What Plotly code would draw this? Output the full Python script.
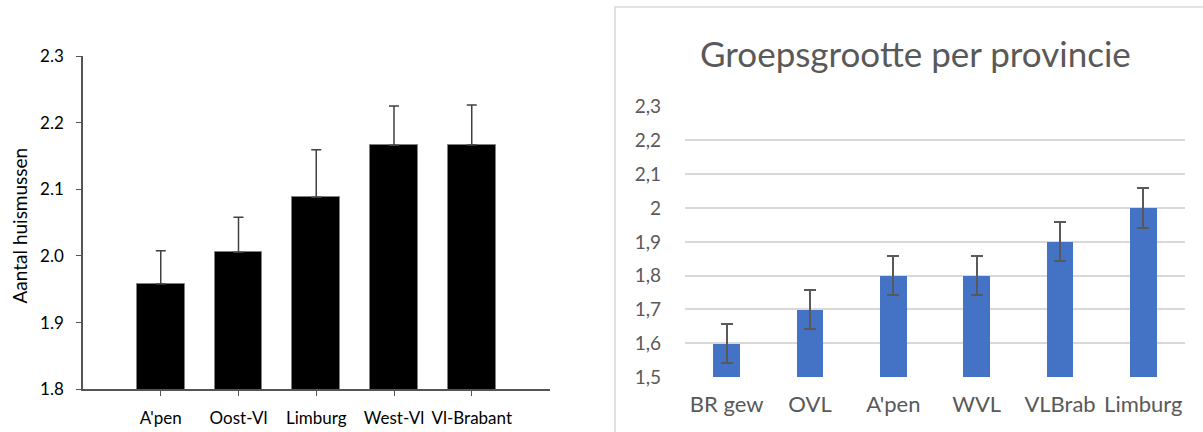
import plotly.graph_objects as go

# Left chart data
left_cats = ["A'pen", "Oost-Vl", "Limburg", "West-Vl", "Vl-Brabant"]
left_vals = [1.958, 2.0055, 2.088, 2.166, 2.1665]
left_err = [0.050, 0.0525, 0.0715, 0.059, 0.060]
left_yticks = [1.8, 1.9, 2.0, 2.1, 2.2, 2.3]

# Right chart data
right_cats = ["BR gew", "OVL", "A'pen", "WVL", "VLBrab", "Limburg"]
right_vals = [1.6, 1.7, 1.8, 1.8, 1.9, 2.0]
right_err = [0.058, 0.058, 0.058, 0.058, 0.058, 0.058]
right_tickvals = [1.5, 1.6, 1.7, 1.8, 1.9, 2.0, 2.1, 2.2, 2.3]
right_ticktext = ["1,5", "1,6", "1,7", "1,8", "1,9", "2", "2,1", "2,2", "2,3"]

W, H = 1203, 432
FONT = "Lato"

fig = go.Figure()

fig.add_trace(go.Bar(
    x=left_cats, y=left_vals, width=0.613,
    marker=dict(color="black", line=dict(color="#808080", width=1)),
    error_y=dict(type="data", array=left_err, arrayminus=[0]*len(left_err), symmetric=False,
                 color="#404040", thickness=1.5, width=5),
    xaxis="x", yaxis="y", showlegend=False,
))

fig.add_trace(go.Bar(
    x=right_cats, y=right_vals, width=0.32,
    marker=dict(color="#4472C4", line=dict(width=0)),
    error_y=dict(type="data", array=right_err, symmetric=True,
                 color="#595959", thickness=2, width=6),
    xaxis="x2", yaxis="y2", showlegend=False,
))

fig.update_layout(
    width=W, height=H,
    margin=dict(l=0, r=0, t=0, b=0),
    paper_bgcolor="white", plot_bgcolor="white",
    font=dict(family=FONT, color="black"),
    xaxis=dict(domain=[83/W, 549.5/W], range=[-1, 5], showline=True, linecolor="#555555", linewidth=1.5,
               ticks="outside", ticklen=5, tickcolor="#555555", showgrid=False, automargin=False,
               tickfont=dict(size=17, color="black"), ticklabelstandoff=8),
    yaxis=dict(domain=[1-389.3/H, 1-56/H], range=[1.8, 2.3], tickvals=left_yticks, tickformat=".1f",
               showline=True, linecolor="#555555", linewidth=1.5, ticks="outside", ticklen=5,
               tickcolor="#555555", showgrid=False, zeroline=False, automargin=False,
               tickfont=dict(size=17, color="black"), ticklabelstandoff=9),
    xaxis2=dict(domain=[685/W, 1185/W], range=[-0.5, 5.5], anchor="y2", showline=False, showgrid=False,
                ticks="", automargin=False, tickfont=dict(size=22, color="#595959"), ticklabelstandoff=12),
    yaxis2=dict(domain=[1-377/H, 1-106.7/H], range=[1.5, 2.3], anchor="x2", tickvals=right_tickvals,
                ticktext=right_ticktext, showline=False, showgrid=True, gridcolor="#d9d9d9", gridwidth=1.5,
                zeroline=False, ticks="", automargin=False,
                tickfont=dict(size=19, color="#595959"), ticklabelstandoff=23),
    bargap=0,
)

fig.add_annotation(text="Aantal huismussen", x=18.5/W, y=1-226/H, xref="paper", yref="paper",
                   textangle=-90, showarrow=False, font=dict(size=19, color="black"),
                   xanchor="center", yanchor="middle")
fig.add_annotation(text="Groepsgrootte per provincie", x=915/W, y=1-53/H, xref="paper", yref="paper",
                   showarrow=False, font=dict(size=35, color="#595959"),
                   xanchor="center", yanchor="middle")
fig.add_shape(type="rect", xref="paper", yref="paper", x0=615/W, y0=-0.05, x1=1.05, y1=1-7/H,
              line=dict(color="#d9d9d9", width=1.5), fillcolor="rgba(0,0,0,0)", layer="below")

fig.write_html("out.html", config={"displayModeBar": False},
               post_script="document.body.style.margin='0';document.body.style.overflow='hidden';")
